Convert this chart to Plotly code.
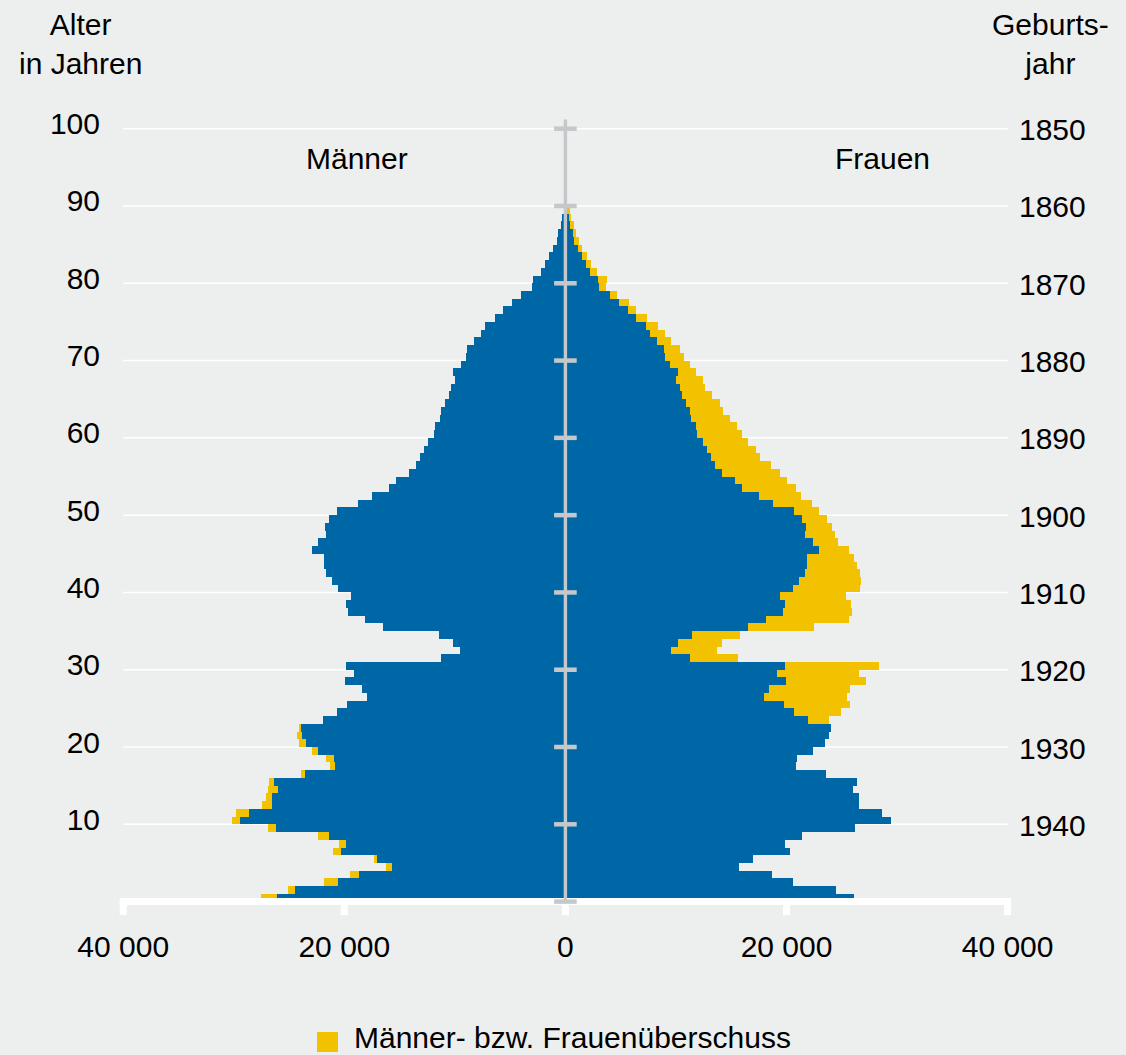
import numpy as np
import plotly.graph_objects as go

# ---------------- data ----------------
ages = list(range(90))
men = [27530, 25090, 21820, 19480, 16230, 17320, 21010, 20470, 22370, 26900,
       30150, 29790, 27440, 27080, 26900, 26810, 23920, 21280, 21640, 22910,
       24100, 24280, 24010, 21930, 20650, 19750, 17950, 18390, 19930, 19120,
       19840, 11250, 9540, 10170, 11440, 16500, 18120, 19660, 19840, 19390,
       20560, 21100, 21640, 21820, 21820, 22910, 22370, 21640, 21730, 21370,
       20650, 18750, 17490, 15950, 15320, 14150, 13510, 13150, 12790, 12430,
       11880, 11800, 11340, 11250, 10890, 10530, 10350, 9990, 10170, 9450,
       9000, 8900, 8270, 7630, 7270, 6370, 5640, 4820, 4000, 3000,
       2920, 2200, 1840, 1480, 1120, 760, 670, 400, 307, 170]
women = [26100, 24470, 20570, 18690, 15700, 17000, 20300, 19850, 21390, 26190,
         29430, 28630, 26550, 26550, 26010, 26370, 23560, 20850, 20940, 22380,
         23470, 23830, 24000, 23830, 24920, 25740, 25470, 25740, 27180, 26550,
         28360, 15610, 13710, 14160, 15790, 22480, 25650, 25920, 25830, 25380,
         26640, 26730, 26640, 26370, 26100, 25650, 24650, 24380, 24100, 23660,
         22930, 22300, 21300, 20850, 20040, 19400, 18590, 17600, 17240, 16520,
         15970, 15520, 14900, 14270, 13990, 13270, 12630, 12450, 11820, 11270,
         10730, 10370, 9550, 9010, 8380, 7380, 6390, 5750, 4670, 3670,
         3760, 2860, 2310, 1950, 1500, 1230, 960, 780, 500, 420]

x_tickvals = [-40000, -20000, 0, 20000, 40000]
x_ticktext = ["40 000", "20 000", "0", "20 000", "40 000"]
age_ticks = [10, 20, 30, 40, 50, 60, 70, 80, 90, 100]
age_ticktext = ["10", "20", "30", "40", "50", "60", "70", "80", "90", "100"]
birth_year_text = ["1940", "1930", "1920", "1910", "1900", "1890", "1880", "1870", "1860", "1850"]
center_tick_ages = [0, 10, 20, 30, 40, 50, 60, 70, 80, 90, 100]

label_men = "Männer"
label_women = "Frauen"
legend_text = "Männer- bzw. Frauenüberschuss"

# ---------------- style ----------------
BLUE = "#0067A7"
YELLOW = "#F2C200"
BG = "rgb(237,239,238)"
GRAYLINE = "#C4C8CB"
FONT = "Liberation Sans, Arial, Helvetica, sans-serif"
FS = 30

W, H = 1126, 1055
ML, MR, MT, MB = 118, 113, 113, 138
PW = W - ML - MR
PH = H - MT - MB

# pixel geometry of the reference
CX = 565.4          # pixel of value 0
KX = 221.1 / 20000  # pixels per person
Y0 = 901.6          # pixel of age 0
KY = 7.729          # pixels per year

xrange = [(ML - CX) / KX, (W - MR - CX) / KX]
yrange = [(Y0 - (MT + PH)) / KY, (Y0 - MT) / KY]


def xp(px):
    return (px - ML) / PW


def yp(py):
    return (MT + PH - py) / PH


def xv(dpx):
    return dpx / KX


def yv(dpx):
    return dpx / KY


men_a = np.array(men)
women_a = np.array(women)
common = np.minimum(men_a, women_a)
men_excess = men_a - common
women_excess = women_a - common

fig = go.Figure()
bar_kw = dict(orientation="h", width=1, offset=0, hoverinfo="skip", showlegend=False)
fig.add_trace(go.Bar(y=ages, x=-common, marker=dict(color=BLUE, line=dict(width=0)), **bar_kw))
fig.add_trace(go.Bar(y=ages, x=-men_excess, marker=dict(color=YELLOW, line=dict(width=0)), **bar_kw))
fig.add_trace(go.Bar(y=ages, x=common, marker=dict(color=BLUE, line=dict(width=0)), **bar_kw))
fig.add_trace(go.Bar(y=ages, x=women_excess, marker=dict(color=YELLOW, line=dict(width=0)), **bar_kw))
# empty trace so that the right-hand (birth year) axis is drawn
fig.add_trace(go.Scatter(x=[None], y=[None], yaxis="y2", mode="markers", showlegend=False, hoverinfo="skip"))

shapes = []
# white gridlines
for a in age_ticks:
    shapes.append(dict(type="line", xref="x", yref="y", x0=x_tickvals[0], x1=x_tickvals[-1], y0=a, y1=a,
                       line=dict(color="white", width=1.5), layer="below"))
# white x axis line + tick stubs
shapes.append(dict(type="line", xref="x", yref="y", x0=x_tickvals[0] - xv(3.5), x1=x_tickvals[-1] + xv(3.5),
                   y0=0, y1=0, line=dict(color="white", width=7)))
for v in x_tickvals:
    shapes.append(dict(type="line", xref="x", yref="y", x0=v, x1=v, y0=0, y1=-yv(13.5),
                       line=dict(color="white", width=7)))
# grey centre axis with ticks
shapes.append(dict(type="line", xref="x", yref="y", x0=0, x1=0, y0=0, y1=100 + yv(9.3),
                   line=dict(color=GRAYLINE, width=3.4)))
for a in center_tick_ages:
    shapes.append(dict(type="line", xref="x", yref="y", x0=-xv(11.3), x1=xv(11.3), y0=a, y1=a,
                       line=dict(color=GRAYLINE, width=4.5)))
# legend swatch
shapes.append(dict(type="rect", xref="paper", yref="paper", x0=xp(317), x1=xp(338), y0=yp(1052), y1=yp(1032),
                   fillcolor=YELLOW, line=dict(width=0)))

annotations = [
    dict(text=label_men, x=xp(356.5), y=yp(158), xanchor="center", yanchor="middle"),
    dict(text=label_women, x=xp(882), y=yp(158), xanchor="center", yanchor="middle"),
    dict(text="Alter<br>in Jahren", x=xp(80), y=yp(44), xanchor="center", yanchor="middle", align="center"),
    dict(text="Geburts-<br>jahr", x=xp(1050), y=yp(44), xanchor="center", yanchor="middle", align="center"),
    dict(text=legend_text, x=xp(352), y=yp(1037), xanchor="left", yanchor="middle"),
]
for a in annotations:
    a.update(xref="paper", yref="paper", showarrow=False, font=dict(family=FONT, size=FS, color="black"))

fig.update_layout(
    width=W, height=H,
    margin=dict(l=ML, r=MR, t=MT, b=MB, pad=0),
    paper_bgcolor=BG, plot_bgcolor=BG,
    barmode="relative", bargap=0,
    font=dict(family=FONT, size=FS, color="black"),
    showlegend=False,
    xaxis=dict(range=xrange, tickvals=x_tickvals, ticktext=x_ticktext, ticks="", showgrid=False,
               zeroline=False, showline=False, fixedrange=True, ticklabelstandoff=9,
               tickfont=dict(family=FONT, size=FS, color="black")),
    yaxis=dict(range=yrange, tickvals=age_ticks, ticktext=age_ticktext, ticks="", showgrid=False,
               zeroline=False, showline=False, fixedrange=True, ticklabelstandoff=17, ticklabelshift=-5,
               tickfont=dict(family=FONT, size=FS, color="black")),
    yaxis2=dict(range=yrange, overlaying="y", side="right", tickvals=age_ticks, ticktext=birth_year_text,
                ticks="", showgrid=False, zeroline=False, showline=False, fixedrange=True,
                ticklabelstandoff=5, ticklabelshift=1,
                tickfont=dict(family=FONT, size=FS, color="black")),
    shapes=shapes,
    annotations=annotations,
)

fig.write_html(
    "out.html",
    config={"displayModeBar": False},
    post_script="document.body.style.margin='0';document.body.style.overflow='hidden';",
)
